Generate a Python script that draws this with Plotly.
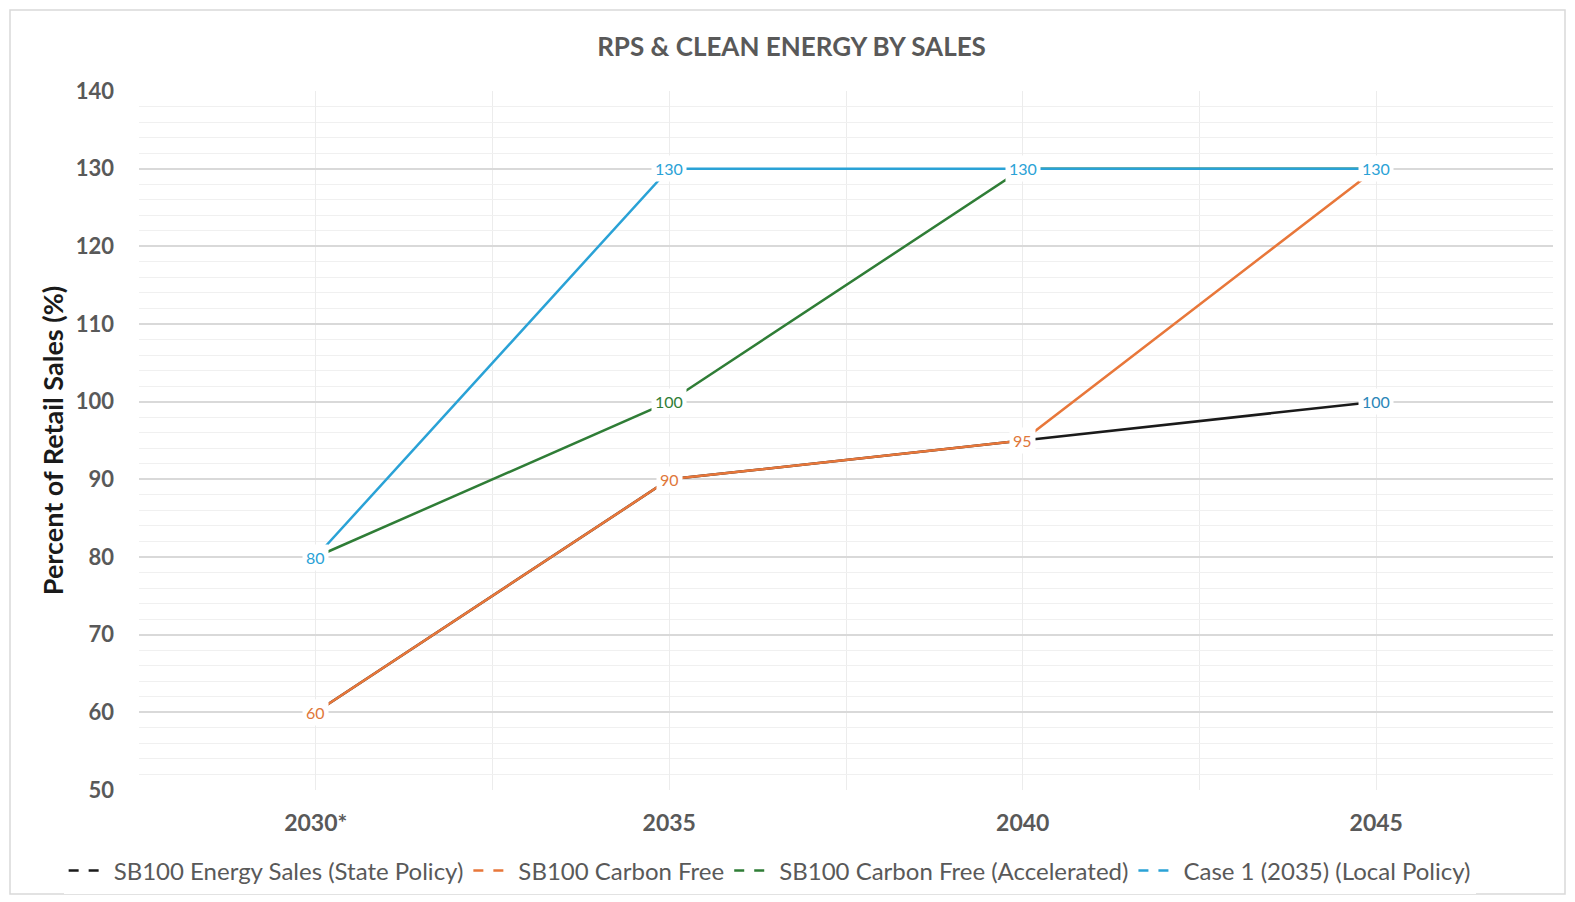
import plotly.graph_objects as go

categories = ["2030*", "2035", "2040", "2045"]
series_names = [
    "SB100 Energy Sales (State Policy)",
    "SB100 Carbon Free",
    "SB100 Carbon Free (Accelerated)",
    "Case 1 (2035) (Local Policy)",
]
state_policy = [60, 90, 95, 100]
carbon_free = [60, 90, 95, 130]
accelerated = [80, 100, 130, 130]
case1 = [80, 130, 130, 130]

# which points carry a visible data label (top-most series wins)
label_state = [False, False, False, True]
label_carbon = [True, True, True, False]
label_accel = [False, True, False, False]
label_case1 = [True, True, True, True]

colors = ["#1a1a1a", "#E8773A", "#2F7D36", "#2AA2D6"]
label_colors = ["#2A86B8", "#E0773A", "#2F7D36", "#2AA2D6"]

values = [state_policy, carbon_free, accelerated, case1]
labels = [label_state, label_carbon, label_accel, label_case1]

x_idx = list(range(len(categories)))

FONT = "Lato, Open Sans, sans-serif"

fig = go.Figure()
annotations = []
for name, vals, col, lab, lcol in zip(series_names, values, colors, labels, label_colors):
    fig.add_trace(go.Scatter(
        x=x_idx, y=vals, mode="lines", name=name,
        line=dict(color=col, width=2.5),
        hoverinfo="x+y", showlegend=False, legendgroup=name,
    ))
    # legend entry with the dashed key seen in the original
    fig.add_trace(go.Scatter(
        x=[None], y=[None], mode="lines", name=name, legendgroup=name,
        line=dict(color=col, width=2.5, dash="10px,10px"),
        hoverinfo="skip", showlegend=True,
    ))
    for xi, v, show in zip(x_idx, vals, lab):
        if show:
            annotations.append(dict(
                x=xi, y=v, xref="x", yref="y", text=str(v), showarrow=False,
                font=dict(family=FONT, size=16, color=lcol),
                bgcolor="white", borderpad=3,
                xanchor="center", yanchor="middle",
            ))

PH = 894 - 83 - 112  # plot height in px
grey = "#595959"
fig.update_layout(
    width=1567, height=894,
    paper_bgcolor="white", plot_bgcolor="white",
    margin=dict(l=131, r=22, t=83, b=112, autoexpand=False),
    title=dict(
        text="<b>RPS &amp; CLEAN ENERGY BY SALES</b>",
        x=0.5, xanchor="center", y=0.957, yanchor="middle",
        font=dict(family=FONT, size=26, color=grey),
    ),
    font=dict(family=FONT, color=grey),
    showlegend=True,
    legend=dict(
        orientation="h", x=0.446, xanchor="center", y=-81 / PH, yanchor="middle",
        font=dict(size=24, color=grey), itemwidth=40,
        traceorder="normal",
    ),
    annotations=annotations,
)

fig.update_xaxes(
    range=[-0.5, len(categories) - 0.5],
    tickvals=x_idx, ticktext=["<b>%s</b>" % c for c in categories],
    tickfont=dict(size=23, color=grey),
    showgrid=True, gridcolor="#ececec", gridwidth=1,
    minor=dict(dtick=0.5, tick0=0.5, showgrid=True, gridcolor="#ececec", gridwidth=1),
    zeroline=False, showline=False, ticks="", ticklabelstandoff=17,
    fixedrange=True,
)
fig.update_yaxes(
    range=[50, 140], dtick=10, tick0=50,
    tickfont=dict(size=22, color=grey),
    tickprefix="<b>", ticksuffix="</b>",
    showgrid=True, gridcolor="#d9d9d9", gridwidth=1.5,
    minor=dict(dtick=2, showgrid=True, gridcolor="#f0f0f0", gridwidth=1),
    zeroline=False, showline=False, ticks="", ticklabelstandoff=24,
    title=dict(text="<b>Percent of Retail Sales (%)</b>", standoff=4,
               font=dict(size=27, color="#1a1a1a")),
    fixedrange=True,
)

# outer chart border
fig.add_shape(type="rect", xref="paper", yref="paper",
              x0=-129 / 1414, x1=1 + 12 / 1414, y0=-104 / PH, y1=1 + 81 / PH,
              line=dict(color="#d9d9d9", width=1.5), fillcolor="rgba(0,0,0,0)", layer="below")

fig.write_html("out.html")
